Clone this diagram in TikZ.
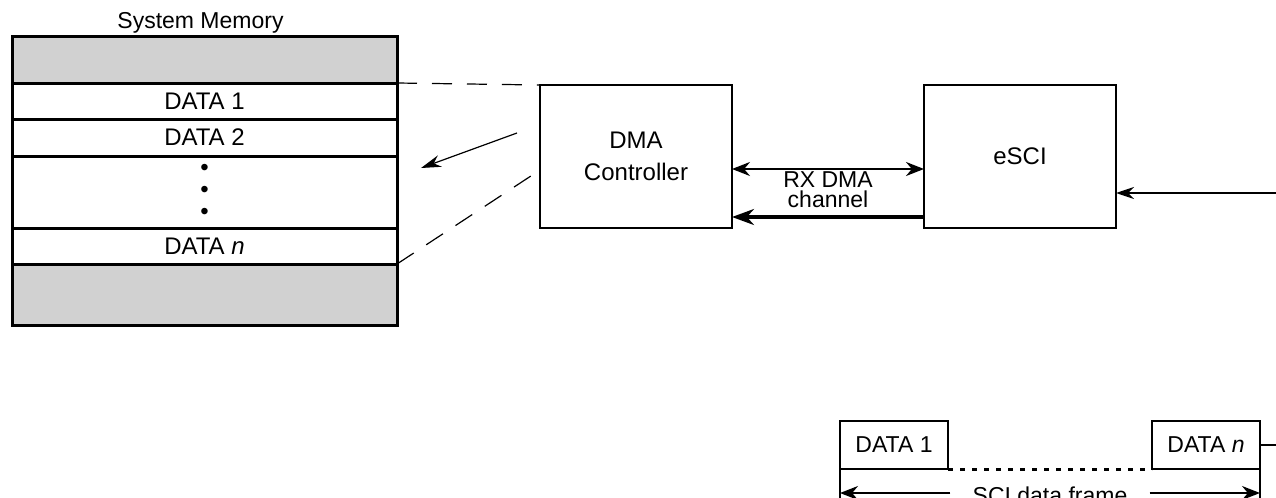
\documentclass[tikz,border=0pt]{standalone}
\usepackage{fontspec}
\setmainfont{Liberation Sans}
\usetikzlibrary{arrows.meta,positioning}
\tikzset{
  >={Stealth[length=9pt,width=7pt]},
  memrow/.style={draw, line width=1.5pt, minimum width=192.5pt, inner sep=1pt, outer sep=0pt, font=\fontsize{12}{13}\selectfont},
  shaded/.style={memrow, fill=black!18},
  unit/.style={draw, line width=1pt, minimum width=96pt, minimum height=71.5pt, outer sep=0pt, align=center, font=\fontsize{12}{16}\selectfont},
  frame/.style={draw, line width=0.8pt, minimum width=54pt, minimum height=24pt, outer sep=0pt, font=\fontsize{11.5}{13}\selectfont},
  lbl/.style={inner sep=1pt, font=\fontsize{11.5}{13}\selectfont},
  link/.style={line width=0.6pt, dash pattern=on 10pt off 7.5pt},
}

\begin{document}
\begin{tikzpicture}[x=0.5pt, y=-0.5pt]
  \clip (0,0) rectangle (1276,498);
  % system memory
  \node[shaded, minimum height=23.5pt, anchor=north west] (mtop) at (12,36) {};
  \node[memrow, minimum height=18pt, below=0pt of mtop] (m1) {DATA 1};
  \node[memrow, minimum height=18.5pt, below=0pt of m1] (m2) {DATA 2};
  \node[memrow, minimum height=36pt, align=center, font=\fontsize{12}{11}\selectfont, below=0pt of m2] (mdots) {\textbullet\\\textbullet\\\textbullet};
  \node[memrow, minimum height=18pt, below=0pt of mdots] (mn) {DATA \textit{n}};
  \node[shaded, minimum height=30.5pt, below=0pt of mn] (mbot) {};
  \node[lbl, above=0pt of mtop, xshift=-2pt] (memlbl) {System Memory};

  % DMA and eSCI
  \node[unit] (dma) at (636,156.5) {DMA\\Controller};
  \node[unit, right=96pt of dma] (esci) {eSCI};
  \node[lbl, align=center, font=\fontsize{11.5}{10}\selectfont] (rx) at (828,190) {RX DMA\\channel};

  \draw[link] (m1.north east) -- (dma.north west);
  \draw[link] (mn.south east) -- ([yshift=-6.75pt]dma.west);
  \coordinate (wrfrom) at (517,133);
  \coordinate (wrto) at (421,168);
  \draw[->, line width=0.6pt, >={Stealth[length=10pt,width=6pt]}] (wrfrom) -- (wrto);

  \draw[<->, line width=1pt] ([yshift=-6.25pt]dma.east) -- ([yshift=-6.25pt]esci.west);
  \draw[->, line width=1.6pt, >={Stealth[length=11pt,width=8pt]}] ([yshift=-30.25pt]esci.west) -- ([yshift=-30.25pt]dma.east);
  \coordinate (sciin) at (1276,193);
  \draw[->, line width=1pt, >={Stealth[length=9pt,width=6pt]}] (sciin) -- (esci.east |- sciin);

  % SCI data frame
  \node[frame] (f1) at (894,445) {DATA 1};
  \node[frame, right=102pt of f1] (fn) {DATA \textit{n}};
  \draw[line width=1.5pt, dash pattern=on 2.5pt off 3.5pt] (f1.south east) -- (fn.south west);
  \coordinate (fnout) at (1276,445);
  \draw[line width=0.8pt] (fn.east) -- (fnout);
  \coordinate (f1low) at (840,510);
  \coordinate (fnlow) at (1260,510);
  \draw[line width=0.8pt] (f1.south west) -- (f1low);
  \draw[line width=0.8pt] (fn.south east) -- (fnlow);
  \node[lbl, inner xsep=11pt] (span) at (1050,495) {SCI data frame};
  \coordinate (spanl) at (840,493);
  \coordinate (spanr) at (1260,493);
  \draw[->, line width=0.8pt] (span.west |- spanl) -- (spanl);
  \draw[->, line width=0.8pt] (span.east |- spanr) -- (spanr);
\end{tikzpicture}
\end{document}
